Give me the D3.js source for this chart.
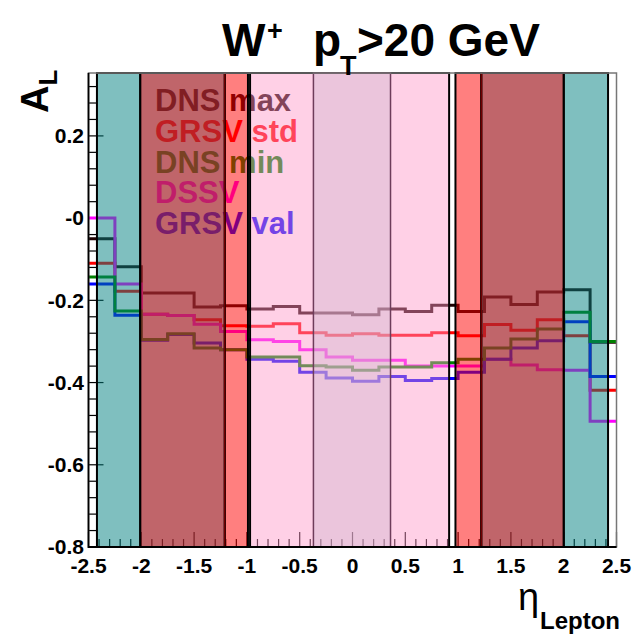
<!DOCTYPE html>
<html>
<head>
<meta charset="utf-8">
<script src="https://cdn.jsdelivr.net/npm/d3@7"></script>
<style>
  body { margin: 0; background: #fff; }
  svg { display: block; }
  text { font-family: "Liberation Sans", Arial, Helvetica, sans-serif; }
</style>
</head>
<body>
<svg id="chart" width="634" height="637"></svg>
<script>
// Lepton pseudorapidity bins (edges) and A_L predictions per bin
const binEdges = [-2.5, -2.25, -2, -1.75, -1.5, -1.25, -1, -0.75, -0.5, -0.25, 0,
                  0.25, 0.5, 0.75, 1, 1.25, 1.5, 1.75, 2, 2.25, 2.5];

const dnsMax  = [-0.050, -0.118, -0.182, -0.182, -0.216, -0.213, -0.221, -0.215, -0.231, -0.231,
                 -0.235, -0.221, -0.227, -0.212, -0.227, -0.192, -0.210, -0.180, -0.174, -0.302];
const grsvStd = [-0.110, -0.178, -0.234, -0.237, -0.247, -0.262, -0.263, -0.257, -0.279, -0.285,
                 -0.281, -0.285, -0.285, -0.279, -0.286, -0.259, -0.273, -0.247, -0.286, -0.419];
const dnsMin  = [-0.143, -0.226, -0.295, -0.281, -0.316, -0.320, -0.338, -0.338, -0.359, -0.362,
                 -0.370, -0.362, -0.362, -0.352, -0.343, -0.316, -0.294, -0.270, -0.229, -0.300];
const dssv    = [ 0.000, -0.160, -0.234, -0.237, -0.258, -0.276, -0.296, -0.300, -0.320, -0.338,
                 -0.346, -0.346, -0.360, -0.360, -0.360, -0.343, -0.357, -0.369, -0.370, -0.494];
const grsvVal = [-0.160, -0.236, -0.297, -0.283, -0.304, -0.320, -0.343, -0.348, -0.375, -0.389,
                 -0.397, -0.385, -0.395, -0.390, -0.375, -0.343, -0.316, -0.298, -0.252, -0.385];

const seriesNames  = ["DNS max", "GRSV std", "DNS min", "DSSV", "GRSV val"];
const seriesValues = [dnsMax, grsvStd, dnsMin, dssv, grsvVal];
const seriesColors = ["#1e0000", "#ff0000", "#008000", "#ff00ff", "#0000ff"];
// order in which the histograms are stroked (DNS min ends up on top)
const drawOrder = [0, 1, 3, 4, 2];

// Detector acceptance bands in eta
const tealBands   = [[-2.42, -2.01], [2.0, 2.42]];
const darkBands   = [[-2.01, -1.21], [1.22, 2.0]];
const redBands    = [[-1.21, -0.99], [0.975, 1.22]];
const pinkBand    = [-0.97, 0.915];
const centreBand  = [-0.37, 0.36];

// Axis ticks and labels
const xMajorTicks  = [-2.5, -2, -1.5, -1, -0.5, 0, 0.5, 1, 1.5, 2, 2.5];
const xTickLabels  = ["-2.5", "-2", "-1.5", "-1", "-0.5", "0", "0.5", "1", "1.5", "2", "2.5"];
const yMajorTicks  = [-0.8, -0.6, -0.4, -0.2, 0, 0.2];
const yTickLabels  = ["-0.8", "-0.6", "-0.4", "-0.2", "-0", "0.2"];

const svg = d3.select("#chart");
const frame = { left: 88.5, right: 616.5, top: 73, bottom: 547 };

const x = d3.scaleLinear().domain([-2.5, 2.5]).range([frame.left, frame.right]);
const y = d3.scaleLinear().domain([-0.8, 0.353]).range([frame.bottom, frame.top]);

// Frame background
svg.append("rect")
  .attr("x", frame.left).attr("y", frame.top)
  .attr("width", frame.right - frame.left).attr("height", frame.bottom - frame.top)
  .attr("fill", "#fff");

// Ticks (drawn under the translucent bands)
const xMinor = d3.range(-25, 26).map(d => d / 10).filter(d => !xMajorTicks.some(m => Math.abs(m - d) < 1e-9));
const yMinor = d3.range(-20, 9).map(d => d * 0.04).filter(d => !yMajorTicks.some(m => Math.abs(m - d) < 1e-9) && d <= 0.353);

const tickG = svg.append("g").attr("stroke", "#000").attr("stroke-width", 1.2);
tickG.selectAll("line.xmaj").data(xMajorTicks).join("line")
  .attr("x1", d => x(d)).attr("x2", d => x(d))
  .attr("y1", frame.bottom).attr("y2", frame.bottom - 15);
tickG.selectAll("line.xmin").data(xMinor).join("line")
  .attr("x1", d => x(d)).attr("x2", d => x(d))
  .attr("y1", frame.bottom).attr("y2", frame.bottom - 8);
tickG.selectAll("line.ymaj").data(yMajorTicks).join("line")
  .attr("x1", frame.left).attr("x2", frame.left + 15)
  .attr("y1", d => y(d)).attr("y2", d => y(d));
tickG.selectAll("line.ymin").data(yMinor).join("line")
  .attr("x1", frame.left).attr("x2", frame.left + 8)
  .attr("y1", d => y(d)).attr("y2", d => y(d));

// Step histograms
const stepLine = d3.line()
  .x(d => x(d[0])).y(d => y(d[1]))
  .curve(d3.curveStepAfter);

drawOrder.forEach(i => {
  const vals = seriesValues[i];
  const pts = vals.map((v, j) => [binEdges[j], v]);
  pts.push([binEdges[binEdges.length - 1], vals[vals.length - 1]]);
  svg.append("path")
    .attr("d", stepLine(pts))
    .attr("fill", "none")
    .attr("stroke", seriesColors[i])
    .attr("stroke-width", 3);
});

// Legend text
const legend = svg.append("g").attr("font-weight", "bold").attr("font-size", 31);
seriesNames.forEach((name, i) => {
  legend.append("text")
    .attr("x", 155).attr("y", 111 + i * 30.8)
    .attr("fill", seriesColors[i])
    .text(name);
});

// Translucent acceptance bands on top
const bands = svg.append("g");
function band(range, fill, opacity, stroke, sw) {
  bands.append("rect")
    .attr("x", x(range[0])).attr("y", frame.top)
    .attr("width", x(range[1]) - x(range[0])).attr("height", frame.bottom - frame.top)
    .attr("fill", fill).attr("fill-opacity", opacity)
    .attr("stroke", stroke).attr("stroke-width", sw);
}
tealBands.forEach(r => band(r, "rgb(0,128,128)", 0.5, "#000", 2));
redBands.forEach(r => band(r, "rgb(255,0,0)", 0.5, "#000", 2));
darkBands.forEach(r => band(r, "rgb(167,42,49)", 0.72, "#000", 2));
band(pinkBand, "rgb(255,150,200)", 0.45, "#000", 2);
band(centreBand, "rgb(211,183,208)", 0.45, "rgb(110,60,90)", 1.5);
// inner edges of the dark bands
darkBands.forEach(r => {
  const edge = r[0] < 0 ? r[1] : r[0];
  bands.append("line")
    .attr("x1", x(edge)).attr("x2", x(edge))
    .attr("y1", frame.top).attr("y2", frame.bottom)
    .attr("stroke", "rgb(110,0,0)").attr("stroke-width", 1.5);
});

// Frame outline
svg.append("rect")
  .attr("x", frame.left).attr("y", frame.top)
  .attr("width", frame.right - frame.left).attr("height", frame.bottom - frame.top)
  .attr("fill", "none").attr("stroke", "#777").attr("stroke-width", 1.5);
svg.append("path")
  .attr("d", `M${frame.left},${frame.top}V${frame.bottom}H${frame.right}`)
  .attr("fill", "none").attr("stroke", "#000").attr("stroke-width", 1.8);

// Tick labels
const lab = svg.append("g").attr("font-weight", "bold").attr("font-size", 21).attr("fill", "#000");
lab.selectAll("text.x").data(xMajorTicks).join("text")
  .attr("x", d => x(d)).attr("y", 573)
  .attr("text-anchor", "middle")
  .text((d, i) => xTickLabels[i]);
lab.selectAll("text.y").data(yMajorTicks).join("text")
  .attr("x", 84).attr("y", d => y(d)).attr("dy", "0.35em")
  .attr("text-anchor", "end")
  .text((d, i) => yTickLabels[i]);

// Title
const title = svg.append("text").attr("font-weight", "bold").attr("font-size", 46).attr("fill", "#000");
title.append("tspan").attr("x", 222).attr("y", 56).text("W");
title.append("tspan").attr("x", 267).attr("y", 40).attr("font-size", 27).text("+");
title.append("tspan").attr("x", 313).attr("y", 56).text("p");
title.append("tspan").attr("x", 340).attr("y", 75).attr("font-size", 27).text("T");
title.append("tspan").attr("x", 357).attr("y", 56).text(">20 GeV");

// Y axis title
const yt = svg.append("text")
  .attr("transform", "translate(48,113) rotate(-90)")
  .attr("font-weight", "bold").attr("font-size", 38).attr("fill", "#000");
yt.append("tspan").text("A");
yt.append("tspan").attr("font-size", 26).attr("dy", 9).text("L");

// X axis title
svg.append("text").attr("x", 518).attr("y", 610).attr("font-size", 38).attr("fill", "#000").text("η");
svg.append("text").attr("x", 540).attr("y", 629).attr("font-size", 24).attr("font-weight", "bold").attr("fill", "#000").text("Lepton");
</script>
</body>
</html>
